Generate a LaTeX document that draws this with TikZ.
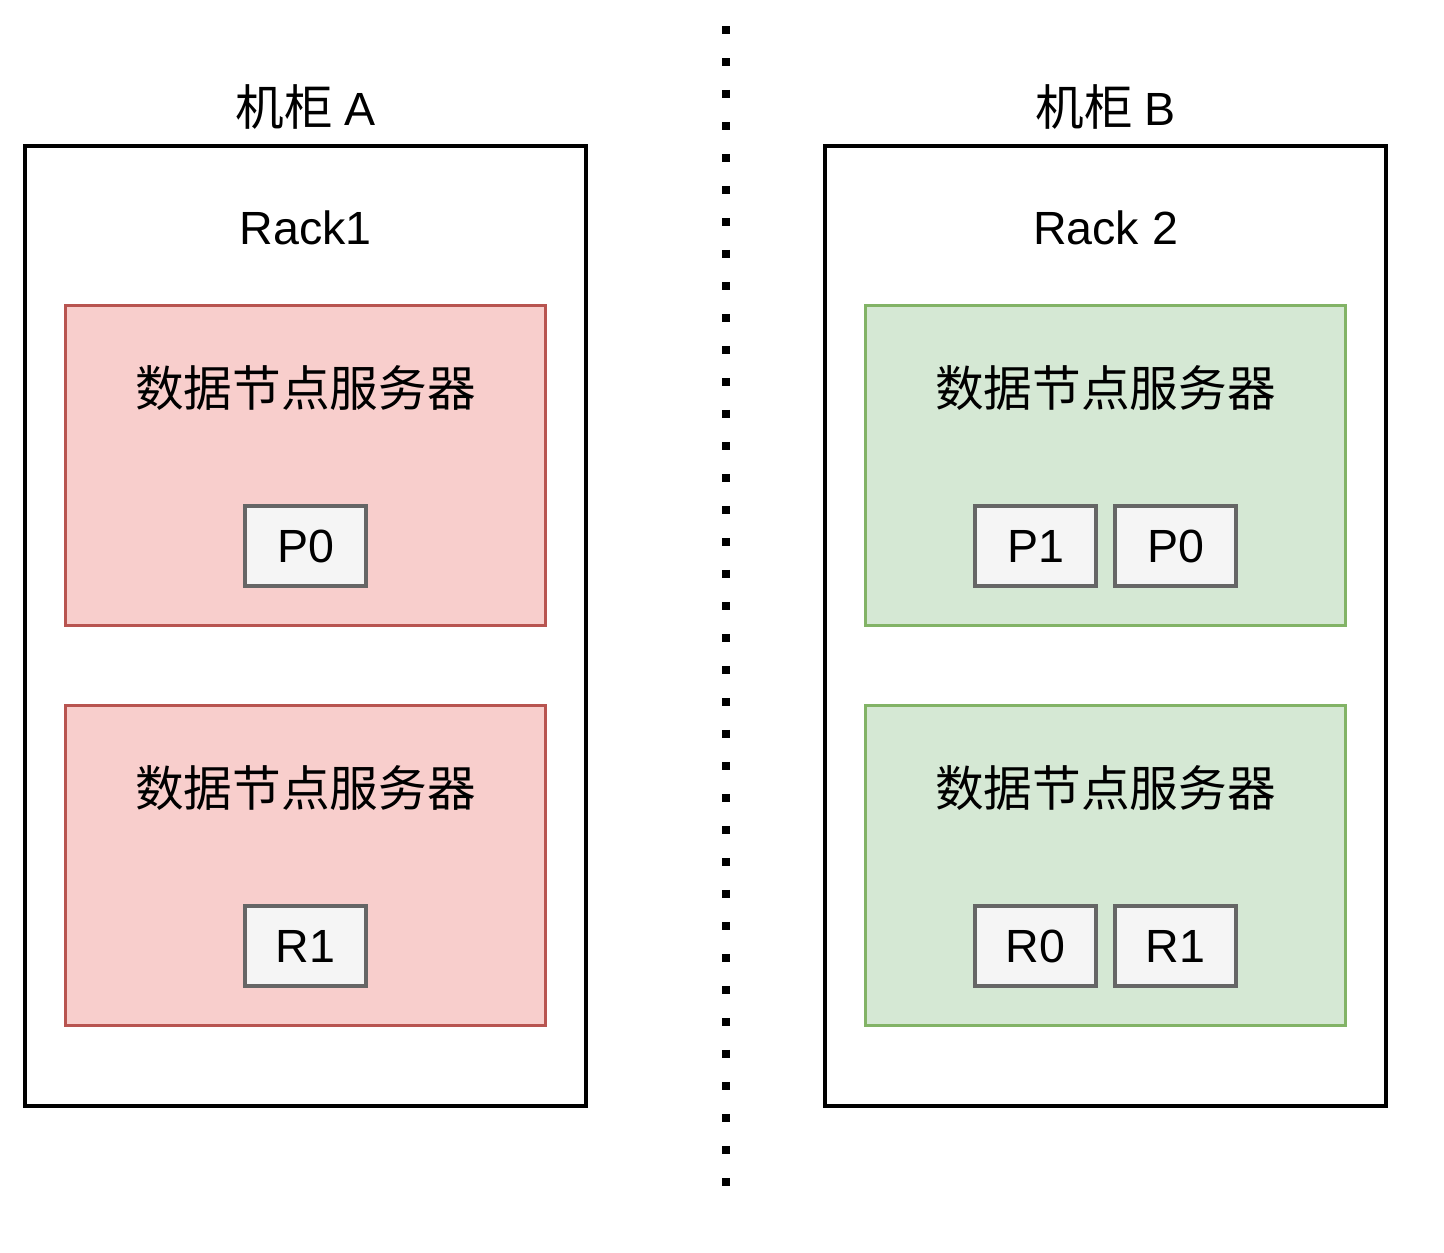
\documentclass[tikz,border=0pt]{standalone}
\usepackage{fontspec}
\setmainfont{Liberation Sans}
\newfontfamily\cjk{Noto Sans CJK SC}
\definecolor{redfill}{HTML}{F8CECC}
\definecolor{redline}{HTML}{B85450}
\definecolor{greenfill}{HTML}{D5E8D4}
\definecolor{greenline}{HTML}{82B366}
\definecolor{partfill}{HTML}{F5F5F5}
\definecolor{partline}{HTML}{666666}
\tikzset{
  bigtext/.style={font=\fontsize{26.5}{30}\selectfont},
  cjktext/.style={font=\cjk\fontsize{27.7}{31}\selectfont},
  rackbox/.style={draw, line width=2.3pt, minimum width=11.22cm, minimum height=19.2cm},
  serverbox/.style={draw, line width=1.7pt, minimum width=9.62cm, minimum height=6.42cm},
  redserver/.style={serverbox, fill=redfill, draw=redline},
  greenserver/.style={serverbox, fill=greenfill, draw=greenline},
  partbox/.style={draw=partline, fill=partfill, line width=1.9pt, minimum width=2.42cm, minimum height=1.6cm, bigtext},
}
\begin{document}
\begin{tikzpicture}[x=0.02cm, y=-0.02cm]
\useasboundingbox (0,0) rectangle (1444,1252);
% racks
\node[rackbox] (rackA) at (305.5,626) {};
\node[rackbox] (rackB) at (1105.5,626) {};
\node[cjktext] (titleA) at (305.5,107) {机柜\ {\fontsize{26.5}{30}\selectfont\rmfamily A}};
\node[cjktext] (titleB) at (1105.5,107) {机柜\ {\fontsize{26.5}{30}\selectfont\rmfamily B}};
\node[bigtext] (nameA) at (305.5,228) {Rack1};
\node[bigtext] (nameB) at (1105.5,228) {Rack 2};
% servers in rack A
\node[redserver] (srvA1) at (305.5,465.5) {};
\node[redserver] (srvA2) at (305.5,865.5) {};
% servers in rack B
\node[greenserver] (srvB1) at (1105.5,465.5) {};
\node[greenserver] (srvB2) at (1105.5,865.5) {};
\foreach \s/\x/\y in {A1/305.5/388, A2/305.5/788, B1/1105.5/388, B2/1105.5/788}
  \node[cjktext] (lbl\s) at (\x,\y) {数据节点服务器};
% partitions and replicas
\node[partbox] (pA0) at (305.5,546) {P0};
\node[partbox] (rA1) at (305.5,946) {R1};
\node[partbox] (pB1) at (1035.5,546) {P1};
\node[partbox] (pB0) at (1175.5,546) {P0};
\node[partbox] (rB0) at (1035.5,946) {R0};
\node[partbox] (rB1) at (1175.5,946) {R1};
% divider
\coordinate (divtop) at (726,26);
\coordinate (divbot) at (726,1186);
\draw[line width=0.16cm, dash pattern=on 0.16cm off 0.48cm] (divtop) -- (divbot);
\end{tikzpicture}
\end{document}
